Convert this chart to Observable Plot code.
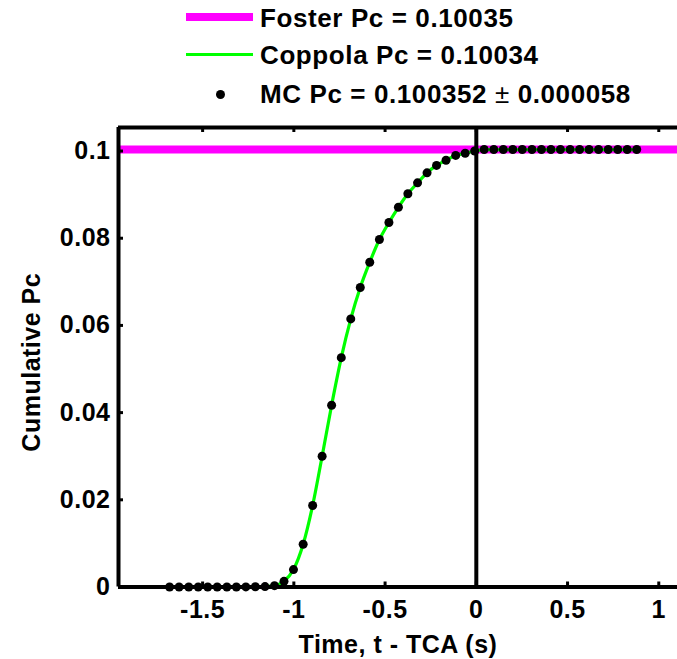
<!DOCTYPE html>
<html>
<head>
<meta charset="utf-8">
<script src="https://cdn.jsdelivr.net/npm/d3@7"></script>
<script src="https://cdn.jsdelivr.net/npm/@observablehq/plot@0.6"></script>
<style>
  html, body { margin: 0; padding: 0; background: #fff; overflow: hidden; }
  #legend { position: relative; width: 677px; height: 115px; font-family: "Liberation Sans", Arial, sans-serif; font-weight: bold; font-size: 26px; letter-spacing: 0.6px; color: #000; }
  #legend .txt { position: absolute; left: 260px; line-height: 30px; white-space: nowrap; }
  #legend .sw { position: absolute; }
  #chart svg { display: block; }
</style>
</head>
<body>
<div id="legend">
  <div class="sw" style="left:186px; top:12.5px; width:67px; height:8px; background:#ff00ff;"></div>
  <div class="txt" id="l1" style="top:3px;"></div>
  <div class="sw" style="left:186px; top:52.5px; width:67px; height:3px; background:#00ff00;"></div>
  <div class="txt" id="l2" style="top:40px;"></div>
  <div class="sw" style="left:215.5px; top:89.5px; width:9px; height:9px; border-radius:50%; background:#000;"></div>
  <div class="txt" id="l3" style="top:79px;"></div>
</div>
<div id="chart"></div>
<script>
// ---- data ----
const times = [-1.681, -1.629, -1.576, -1.524, -1.472, -1.420, -1.367, -1.315, -1.263, -1.211,
               -1.158, -1.106, -1.054, -1.002, -0.949, -0.897, -0.845, -0.793, -0.740, -0.688,
               -0.636, -0.584, -0.531, -0.479, -0.427, -0.375, -0.322, -0.270, -0.218, -0.166,
               -0.113, -0.061, -0.009, 0.043, 0.096, 0.148, 0.200, 0.252, 0.305, 0.357,
               0.409, 0.461, 0.514, 0.566, 0.618, 0.670, 0.723, 0.775, 0.827, 0.879];
const mcPc = [0, 0, 0, 0, 0, 0, 0, 0, 0.00002, 0.00005,
              0.0001, 0.0003, 0.0013, 0.0040, 0.0098, 0.0187, 0.0300, 0.0417, 0.0526, 0.0615,
              0.0687, 0.0745, 0.0797, 0.0836, 0.0871, 0.0902, 0.0927, 0.0950, 0.0967, 0.0979,
              0.0990, 0.0995, 0.1000, 0.10035, 0.10035, 0.10035, 0.10035, 0.10035, 0.10035, 0.10035,
              0.10035, 0.10035, 0.10035, 0.10035, 0.10035, 0.10035, 0.10035, 0.10035, 0.10035, 0.10035];
const coppolaPc = [0, 0, 0, 0, 0, 0, 0, 0, 0.00002, 0.00005,
              0.0001, 0.0003, 0.0013, 0.0040, 0.0098, 0.0187, 0.0300, 0.0417, 0.0526, 0.0615,
              0.0687, 0.0745, 0.0797, 0.0836, 0.0871, 0.0902, 0.0927, 0.0950, 0.0967, 0.0979,
              0.0990, 0.0995, 0.1000, 0.10034, 0.10034, 0.10034, 0.10034, 0.10034, 0.10034, 0.10034,
              0.10034, 0.10034, 0.10034, 0.10034, 0.10034, 0.10034, 0.10034, 0.10034, 0.10034, 0.10034];
const fosterPc = 0.10035;
const xTicks = [-1.5, -1, -0.5, 0, 0.5, 1];
const yTicks = [0, 0.02, 0.04, 0.06, 0.08, 0.1];
const legendLabels = ["Foster Pc = 0.10035", "Coppola Pc = 0.10034", "MC Pc = 0.100352 \u00b1 0.000058"];
const xLabel = "Time, t - TCA (s)";
const yLabel = "Cumulative Pc";

// ---- legend ----
document.getElementById("l1").textContent = legendLabels[0];
document.getElementById("l2").textContent = legendLabels[1];
{
  const parts = legendLabels[2].split("\u00b1");
  const el = document.getElementById("l3");
  el.append(parts[0]);
  const pm = document.createElement("span");
  pm.style.fontWeight = "normal";
  pm.textContent = "\u00b1";
  el.append(pm, parts[1]);
}

// ---- chart ----
const xDomain = [-1.961, 1.1026];
const yDomain = [0, 0.1054];
const W = 677, H = 544, mT = 12, mB = 72.5, mL = 118, mR = 0;
const pxY = (yDomain[1] - yDomain[0]) / (H - mT - mB);
const pxX = (xDomain[1] - xDomain[0]) / (W - mL - mR);
const tickLenY = 5 * pxY;
const tickLenX = 5 * pxX;

const mc = times.map((t, i) => ({t, v: mcPc[i]}));
const cop = times.map((t, i) => ({t, v: coppolaPc[i]}));
const fmt = d => String(+d.toFixed(2));

const chart = Plot.plot({
  width: W, height: H,
  marginTop: mT, marginBottom: mB, marginLeft: mL, marginRight: mR,
  x: {domain: xDomain},
  y: {domain: yDomain},
  style: {fontFamily: "Liberation Sans, Arial, sans-serif", fontSize: "25px", fontWeight: "bold", color: "#000", background: "#fff", letterSpacing: "0.5px", overflow: "visible"},
  marks: [
    Plot.ruleY([fosterPc], {stroke: "#ff00ff", strokeWidth: 8}),
    Plot.line(cop, {x: "t", y: "v", stroke: "#00ff00", strokeWidth: 3.2, curve: "monotone-x"}),
    Plot.ruleX([0], {stroke: "#000", strokeWidth: 4}),
    Plot.dot(mc, {x: "t", y: "v", r: 4.5, fill: "#000", stroke: "none"}),
    // frame (top, bottom, left)
    Plot.ruleY([yDomain[1]], {stroke: "#000", strokeWidth: 4}),
    Plot.ruleY([yDomain[0]], {stroke: "#000", strokeWidth: 4}),
    Plot.ruleX([xDomain[0]], {stroke: "#000", strokeWidth: 4}),
    // inward ticks
    Plot.ruleX(xTicks, {x: d => d, y1: yDomain[0], y2: yDomain[0] + tickLenY, stroke: "#000", strokeWidth: 3}),
    Plot.ruleX(xTicks, {x: d => d, y1: yDomain[1], y2: yDomain[1] - tickLenY, stroke: "#000", strokeWidth: 3}),
    Plot.ruleY(yTicks, {y: d => d, x1: xDomain[0], x2: xDomain[0] + tickLenX, stroke: "#000", strokeWidth: 3}),
    Plot.axisX(xTicks, {tickSize: 0, tickPadding: 13, tickFormat: d => String(d), label: null}),
    Plot.axisY(yTicks, {tickSize: 0, tickPadding: 8, tickFormat: fmt, label: null}),
    Plot.text([xLabel], {frameAnchor: "bottom", dy: 66, text: d => d}),
    Plot.text([yLabel], {x: xDomain[0] - 87 * pxX, y: (yDomain[0] + yDomain[1]) / 2 - 5 * pxY, rotate: -90, text: d => d, clip: false})
  ]
});
document.getElementById("chart").append(chart);
</script>
</body>
</html>
